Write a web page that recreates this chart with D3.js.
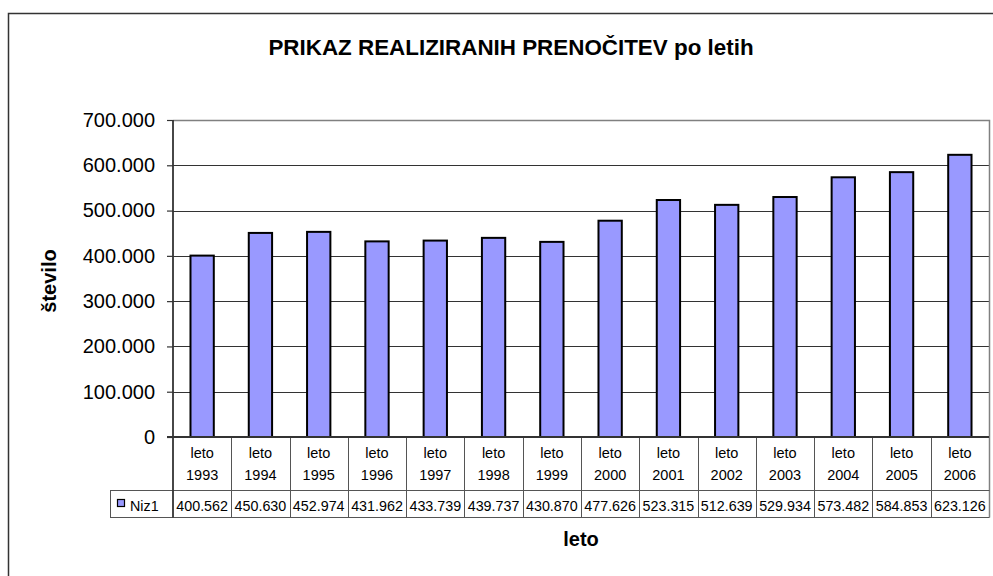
<!DOCTYPE html>
<html><head><meta charset="utf-8">
<script src="https://cdn.jsdelivr.net/npm/d3@7/dist/d3.min.js"></script>
<style>body{margin:0;background:#fff}svg{display:block;font-family:Arial,"Liberation Sans",sans-serif}</style>
</head><body><svg id="c" width="993" height="576"></svg>
<script>
const years = ["1993","1994","1995","1996","1997","1998","1999","2000","2001","2002","2003","2004","2005","2006"];
const categoryPrefix = "leto";
const values = [400562,450630,452974,431962,433739,439737,430870,477626,523315,512639,529934,573482,584853,623126];
const yTicks = [0,100000,200000,300000,400000,500000,600000,700000];
const seriesName = "Niz1";
const title = "PRIKAZ REALIZIRANIH PRENOČITEV po letih";
const yTitle = "število";
const xTitle = "leto";

const loc = d3.formatLocale({decimal:",", thousands:".", grouping:[3], currency:["","€"]});
const fmt = loc.format(",d");

const svg = d3.select("#c");
const L = 173, R = 989, T = 120, B = 437;
const x = d3.scaleBand().domain(years).range([L, R]).paddingInner(0.6).paddingOuter(0.3);
const xc = d3.scaleBand().domain(years).range([L, R]);
const y = d3.scaleLinear().domain([0, 700000]).range([B, T]);

// outer chart border
svg.append("rect").attr("x",8.5).attr("y",13.5).attr("width",1100).attr("height",700)
  .attr("fill","none").attr("stroke","#333").attr("stroke-width",1.5);

// title
svg.append("text").attr("x",511).attr("y",55).attr("text-anchor","middle")
  .attr("font-weight","bold").attr("font-size",22.4).attr("fill","#000").text(title);

// gridlines
svg.append("g").selectAll("line").data(yTicks.filter(d=>d>0 && d<700000)).join("line")
  .attr("x1",L).attr("x2",R).attr("y1",d=>Math.round(y(d))+0.5).attr("y2",d=>Math.round(y(d))+0.5)
  .attr("stroke","#333").attr("stroke-width",1);

// plot area border (top, right)
svg.append("path").attr("d",`M${L},${T+0.5}H${R+0.5}V${B}`).attr("fill","none")
  .attr("stroke","#808080").attr("stroke-width",1.5);

// y axis
const yAxis = d3.axisLeft(y).tickValues(yTicks).tickFormat(fmt).tickSize(6).tickPadding(12);
const ya = svg.append("g").attr("transform",`translate(${L},0)`).call(yAxis);
ya.select(".domain").remove();
ya.selectAll(".tick line").attr("stroke","#333").attr("stroke-width",1.2);
ya.selectAll(".tick text").attr("font-size",20).attr("fill","#000").attr("font-family","Arial, 'Liberation Sans', sans-serif");

// bars
svg.append("g").selectAll("rect").data(values).join("rect")
  .attr("x",(d,i)=>x(years[i])).attr("width",x.bandwidth())
  .attr("y",d=>y(d)).attr("height",d=>B-y(d))
  .attr("fill","#9999FF").attr("stroke","#000").attr("stroke-width",2);

// data table
const rowTop = B, row1 = 490, row2 = 517.5, legL = 110;
const tg = svg.append("g");
tg.selectAll("line.v").data(years.slice(1)).join("line").attr("class","v")
  .attr("x1",d=>Math.round(xc(d))+0.5).attr("x2",d=>Math.round(xc(d))+0.5)
  .attr("y1",rowTop).attr("y2",row2).attr("stroke","#555").attr("stroke-width",1);
tg.append("line").attr("x1",R+0.5).attr("x2",R+0.5).attr("y1",rowTop).attr("y2",row2).attr("stroke","#808080").attr("stroke-width",1.5);
tg.append("line").attr("x1",legL).attr("x2",R+0.5).attr("y1",row1+0.5).attr("y2",row1+0.5).attr("stroke","#555").attr("stroke-width",1);
tg.append("line").attr("x1",legL).attr("x2",R+0.5).attr("y1",row2).attr("y2",row2).attr("stroke","#555").attr("stroke-width",1);
tg.append("line").attr("x1",legL+0.5).attr("x2",legL+0.5).attr("y1",row1).attr("y2",row2).attr("stroke","#555").attr("stroke-width",1);

// y axis line
svg.append("line").attr("x1",L).attr("x2",L).attr("y1",T).attr("y2",row2).attr("stroke","#333").attr("stroke-width",1.8);
// x axis line
svg.append("line").attr("x1",L-6).attr("x2",R).attr("y1",B).attr("y2",B).attr("stroke","#333").attr("stroke-width",1.8);

// category labels
const cl = tg.selectAll("text.cat").data(years).join("text").attr("class","cat")
  .attr("x",d=>xc(d)+xc.bandwidth()/2).attr("text-anchor","middle").attr("font-size",14.5).attr("fill","#000");
cl.append("tspan").attr("x",d=>xc(d)+xc.bandwidth()/2).attr("y",458).text(categoryPrefix);
cl.append("tspan").attr("x",d=>xc(d)+xc.bandwidth()/2).attr("y",479.5).text(d=>d);

// values row
tg.selectAll("text.val").data(values).join("text").attr("class","val")
  .attr("x",(d,i)=>xc(years[i])+xc.bandwidth()/2).attr("y",511).attr("text-anchor","middle")
  .attr("font-size",14.3).attr("fill","#000").text(d=>fmt(d));

// legend key in table
tg.append("rect").attr("x",117.5).attr("y",499.5).attr("width",7).attr("height",7)
  .attr("fill","#9999FF").attr("stroke","#000").attr("stroke-width",1.2);
tg.append("text").attr("x",130).attr("y",511).attr("font-size",14.3).attr("fill","#000").text(seriesName);

// axis titles
svg.append("text").attr("transform","translate(56,281) rotate(-90)").attr("text-anchor","middle")
  .attr("font-weight","bold").attr("font-size",20).attr("fill","#000").text(yTitle);
svg.append("text").attr("x",(L+R)/2).attr("y",546).attr("text-anchor","middle")
  .attr("font-weight","bold").attr("font-size",20).attr("fill","#000").text(xTitle);
</script></body></html>
